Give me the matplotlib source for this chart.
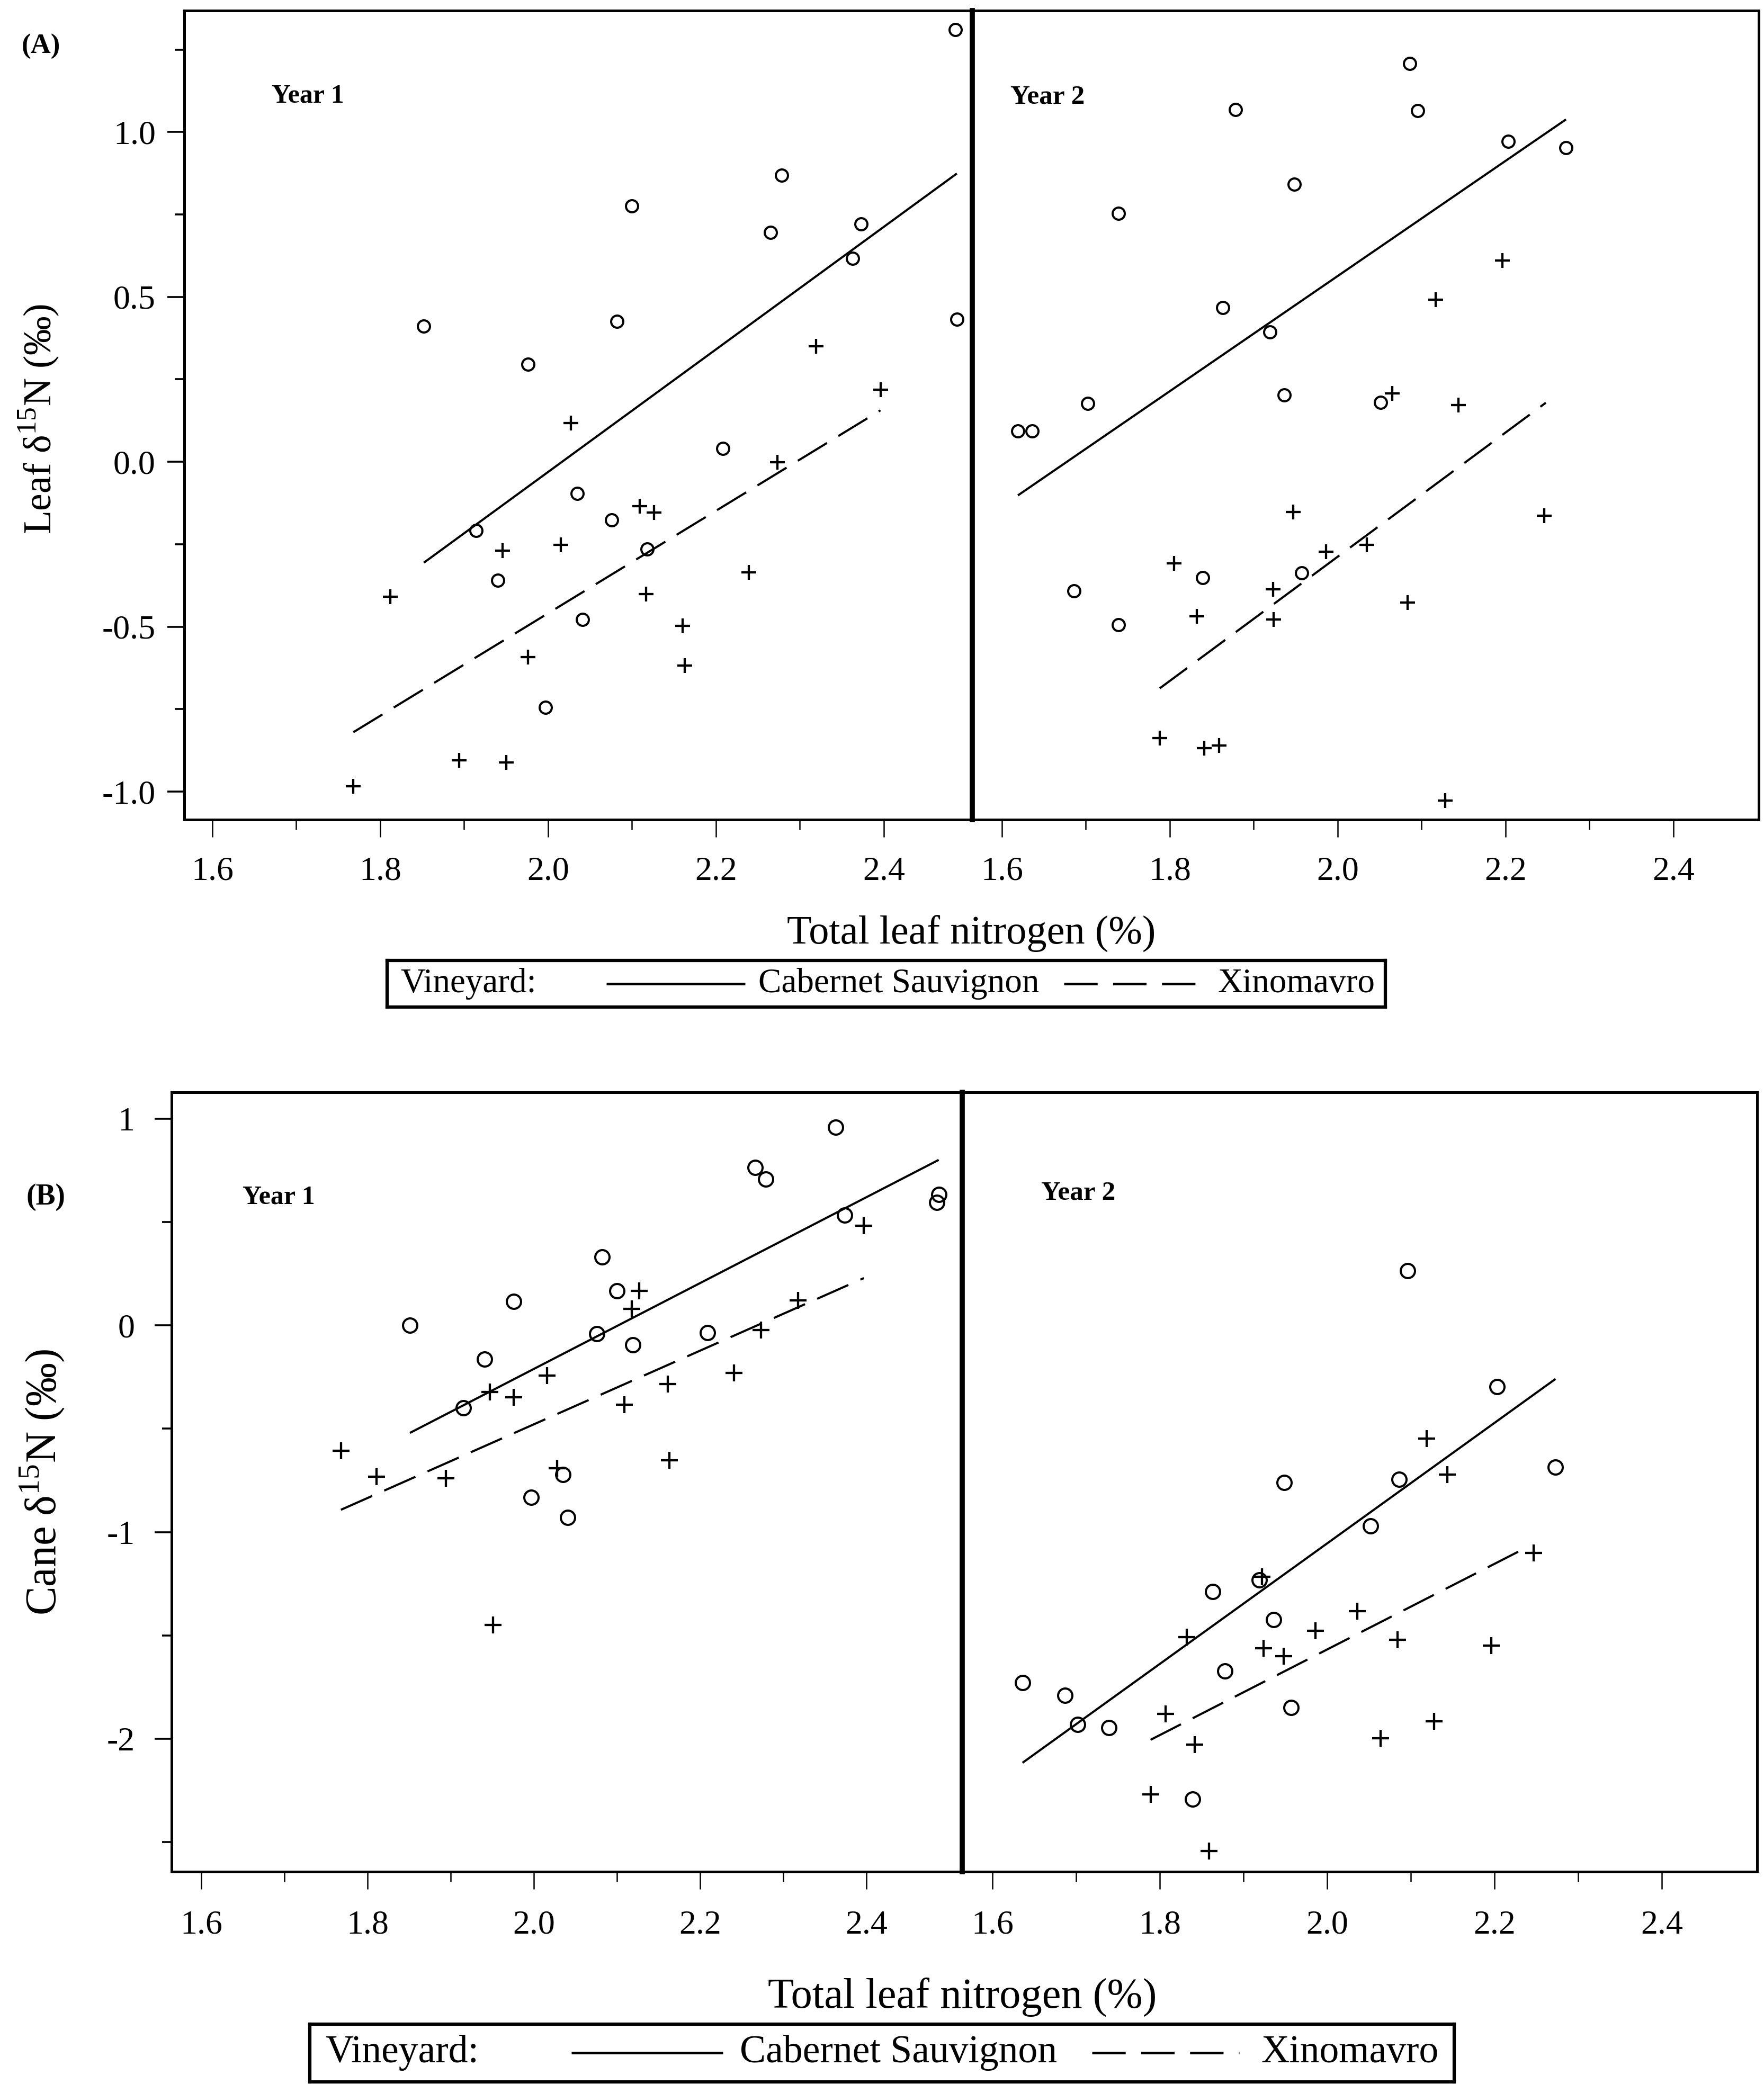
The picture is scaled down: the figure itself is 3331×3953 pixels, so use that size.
import numpy as np
import matplotlib.pyplot as plt
from matplotlib.ticker import FixedLocator, FixedFormatter

plt.rcParams['font.family'] = ['Liberation Serif', 'DejaVu Serif']
plt.rcParams['mathtext.fontset'] = 'custom'
plt.rcParams['mathtext.rm'] = 'Liberation Serif'
plt.rcParams['axes.unicode_minus'] = False

W, H = 3331, 3953

# ---- data ----
# (A) leaf d15N, year 1
a1_cs_n = [1.852, 1.976, 1.914, 1.940, 2.035, 2.041, 1.997, 2.076, 2.082,
           2.100, 2.118, 2.208, 2.265, 2.278, 2.363, 2.373, 2.485, 2.487]
a1_cs_d = [0.411, 0.296, -0.208, -0.360, -0.096, -0.478, -0.744, -0.176, 0.425,
           0.776, -0.265, 0.040, 0.695, 0.868, 0.616, 0.721, 1.310, 0.432]
a1_xi_n = [1.768, 1.812, 1.894, 1.950, 1.946, 1.976, 2.015, 2.027, 2.109,
           2.126, 2.117, 2.160, 2.163, 2.239, 2.273, 2.319, 2.396]
a1_xi_d = [-0.984, -0.409, -0.905, -0.912, -0.269, -0.592, -0.252, 0.117, -0.135,
           -0.154, -0.401, -0.497, -0.618, -0.336, -0.001, 0.350, 0.218]
a1_fit_cs = ([1.852, 2.487], [-0.306, 0.874])
a1_fit_xi = ([1.768, 2.396], [-0.820, 0.156])

# (A) leaf d15N, year 2
a2_cs_n = [1.619, 1.636, 1.702, 1.686, 1.739, 1.739, 1.839, 1.863, 1.878,
           1.919, 1.936, 1.948, 1.957, 2.051, 2.086, 2.095, 2.203, 2.272]
a2_cs_d = [0.094, 0.094, 0.177, -0.391, 0.753, -0.494, -0.352, 0.468, 1.067,
           0.394, 0.203, 0.842, -0.337, 0.180, 1.207, 1.065, 0.972, 0.953]
a2_xi_n = [1.788, 1.841, 1.859, 1.805, 1.832, 1.923, 1.924, 1.947, 1.986,
           2.035, 2.065, 2.083, 2.117, 2.128, 2.144, 2.196, 2.246]
a2_xi_d = [-0.837, -0.869, -0.860, -0.308, -0.468, -0.386, -0.478, -0.153, -0.272,
           -0.252, 0.208, -0.427, 0.492, -1.028, 0.172, 0.611, -0.164]
a2_fit_cs = ([1.619, 2.272], [-0.102, 1.038])
a2_fit_xi = ([1.788, 2.248], [-0.687, 0.179])

# (B) cane d15N, year 1
b1_cs_n = [1.851, 1.941, 1.915, 1.976, 1.997, 2.035, 2.041, 2.076, 2.082,
           2.100, 2.119, 2.209, 2.266, 2.279, 2.363, 2.374, 2.487, 2.485]
b1_cs_d = [0.000, -0.164, -0.399, 0.116, -0.833, -0.722, -0.930, -0.040, 0.332,
           0.167, -0.094, -0.035, 0.765, 0.709, 0.960, 0.534, 0.633, 0.596]
b1_xi_n = [1.768, 1.811, 1.894, 1.951, 1.947, 1.976, 2.016, 2.028, 2.109,
           2.118, 2.127, 2.161, 2.163, 2.241, 2.273, 2.318, 2.397]
b1_xi_d = [-0.606, -0.733, -0.739, -1.450, -0.323, -0.348, -0.243, -0.690, -0.383,
           0.081, 0.167, -0.283, -0.652, -0.229, -0.022, 0.121, 0.482]
b1_fit_cs = ([1.851, 2.487], [-0.520, 0.801])
b1_fit_xi = ([1.768, 2.397], [-0.892, 0.229])

# (B) cane d15N, year 2
b2_cs_n = [1.636, 1.687, 1.702, 1.739, 1.839, 1.863, 1.878, 1.919, 1.936,
           1.949, 1.957, 2.052, 2.086, 2.096, 2.203, 2.273]
b2_cs_d = [-1.728, -1.790, -1.930, -1.946, -2.291, -1.288, -1.671, -1.232, -1.423,
           -0.760, -1.849, -0.970, -0.744, 0.264, -0.296, -0.685]
b2_xi_n = [1.789, 1.842, 1.859, 1.807, 1.832, 1.922, 1.924, 1.948, 1.986,
           2.036, 2.064, 2.084, 2.119, 2.128, 2.144, 2.196, 2.247]
b2_xi_d = [-2.270, -2.027, -2.544, -1.879, -1.509, -1.216, -1.563, -1.601, -1.477,
           -1.383, -1.997, -1.520, -0.547, -1.916, -0.722, -1.550, -1.100]
b2_fit_cs = ([1.636, 2.273], [-2.116, -0.259])
b2_fit_xi = ([1.789, 2.239], [-2.005, -1.073])

x_major = [1.6, 1.8, 2.0, 2.2, 2.4]
x_minor = [1.7, 1.9, 2.1, 2.3]
x_labels = ['1.6', '1.8', '2.0', '2.2', '2.4']
a_y_major = [-1.0, -0.5, 0.0, 0.5, 1.0]
a_y_minor = [-0.75, -0.25, 0.25, 0.75, 1.25]
a_y_labels = ['-1.0', '-0.5', '0.0', '0.5', '1.0']
b_y_major = [-2, -1, 0, 1]
b_y_minor = [-2.5, -1.5, -0.5, 0.5]
b_y_labels = ['-2', '-1', '0', '1']


def rect(x0, y0, x1, y1):
    # pixel box -> figure fraction
    return [x0 / W, 1 - y1 / H, (x1 - x0) / W, (y1 - y0) / H]


fig = plt.figure(figsize=(W / 100, H / 100), dpi=100)


def facet(r, xlim, ylim, cs, xi, fit_cs, fit_xi, ms_o, ms_p, left, ytk=None,
          ypad=16, xpad=26):
    ax = fig.add_axes(r)
    ax.plot(cs[0], cs[1], 'o', mfc='none', mec='k', ms=ms_o, mew=2.9, ls='none')
    ax.plot(xi[0], xi[1], '+', color='k', ms=ms_p, mew=3.1, ls='none')
    ax.plot(fit_cs[0], fit_cs[1], color='k', lw=2.9, solid_capstyle='butt')
    ax.plot(fit_xi[0], fit_xi[1], color='k', lw=2.9, dashes=(16, 6.2),
            dash_capstyle='butt')
    ax.set_xlim(xlim)
    ax.set_ylim(ylim)
    ax.xaxis.set_major_locator(FixedLocator(x_major))
    ax.xaxis.set_major_formatter(FixedFormatter(x_labels))
    ax.xaxis.set_minor_locator(FixedLocator(x_minor))
    ax.tick_params(axis='x', which='major', direction='out', length=24, width=1.8,
                   labelsize=46, pad=xpad)
    ax.tick_params(axis='x', which='minor', direction='out', length=14, width=1.8)
    for s in ax.spines.values():
        s.set_linewidth(3.6)
    if left:
        major, minor, labels = ytk
        ax.yaxis.set_major_locator(FixedLocator(major))
        ax.yaxis.set_major_formatter(FixedFormatter(labels))
        ax.yaxis.set_minor_locator(FixedLocator(minor))
        ax.tick_params(axis='y', which='major', direction='out', length=23, width=2.6,
                       labelsize=46, pad=ypad)
        ax.tick_params(axis='y', which='minor', direction='out', length=13, width=2.6)
        ax.spines['right'].set_visible(False)
    else:
        ax.set_yticks([])
        ax.tick_params(axis='y', which='minor', left=False)
        ax.spines['left'].set_linewidth(7)
    return ax


# panel A
facet(rect(348, 20, 1836, 1548), (1.5666, 2.5054), (-1.085, 1.368),
      (a1_cs_n, a1_cs_d), (a1_xi_n, a1_xi_d), a1_fit_cs, a1_fit_xi, 16.5, 20, True,
      (a_y_major, a_y_minor, a_y_labels), ypad=16)
facet(rect(1836, 20, 3321, 1548), (1.5647, 2.5016), (-1.085, 1.368),
      (a2_cs_n, a2_cs_d), (a2_xi_n, a2_xi_d), a2_fit_cs, a2_fit_xi, 16.5, 20, False)

# panel B
facet(rect(324, 2063, 1817, 3535), (1.5643, 2.5153), (-2.643, 1.128),
      (b1_cs_n, b1_cs_d), (b1_xi_n, b1_xi_d), b1_fit_cs, b1_fit_xi, 19.4, 23.5, True,
      (b_y_major, b_y_minor, b_y_labels), ypad=27, xpad=28)
facet(rect(1817, 2063, 3318, 3535), (1.5639, 2.514), (-2.643, 1.128),
      (b2_cs_n, b2_cs_d), (b2_xi_n, b2_xi_d), b2_fit_cs, b2_fit_xi, 19.4, 23.5, False,
      xpad=28)


def ftext(x, y, s, **kw):
    fig.text(x / W, 1 - y / H, s, **kw)


ftext(77, 88, '(A)', fontsize=38, fontweight='bold', ha='center', va='center')
ftext(513, 182, 'Year 1', fontsize=36, fontweight='bold', ha='left', va='center')
ftext(1908, 183, 'Year 2', fontsize=37, fontweight='bold', ha='left', va='center')
ftext(87, 2261, '(B)', fontsize=40, fontweight='bold', ha='center', va='center')
ftext(458, 2261, 'Year 1', fontsize=36, fontweight='bold', ha='left', va='center')
ftext(1966, 2253, 'Year 2', fontsize=37, fontweight='bold', ha='left', va='center')

ftext(1834, 1764, 'Total leaf nitrogen (%)', fontsize=55, ha='center', va='center')
ftext(1817, 3772, 'Total leaf nitrogen (%)', fontsize=58, ha='center', va='center')
ftext(74, 791, 'Leaf δ$^{\\mathregular{15}}$N (‰)', fontsize=53, rotation=90,
      ha='center', va='center')
ftext(80, 2800, 'Cane δ$^{\\mathregular{15}}$N (‰)', fontsize=59, rotation=90,
      ha='center', va='center')


def legend_box(x0, y0, x1, y1, size, t1, solid, t2, dashed, t3):
    lg = fig.add_axes(rect(x0, y0, x1, y1))
    lg.set_xlim(x0, x1)
    lg.set_ylim(y1, y0)
    lg.set_xticks([])
    lg.set_yticks([])
    for s in lg.spines.values():
        s.set_linewidth(4.5)
    yc = (y0 + y1) / 2
    lg.text(t1, yc, 'Vineyard:', fontsize=size, ha='left', va='center')
    lg.plot(solid, [yc, yc], color='k', lw=3.5, solid_capstyle='butt')
    lg.text(t2, yc, 'Cabernet Sauvignon', fontsize=size, ha='left', va='center')
    lg.plot(dashed, [yc, yc], color='k', lw=3.5, dashes=(13, 6))
    lg.text(t3, yc, 'Xinomavro', fontsize=size, ha='left', va='center')


legend_box(731, 1814, 2616, 1902, 47, 756, (1145, 1407), 1432, (2009, 2261), 2300)
legend_box(585, 3823, 2746, 3932, 53, 614, (1079, 1365), 1397, (2062, 2340), 2381)

fig.savefig('out.png', dpi=100)
